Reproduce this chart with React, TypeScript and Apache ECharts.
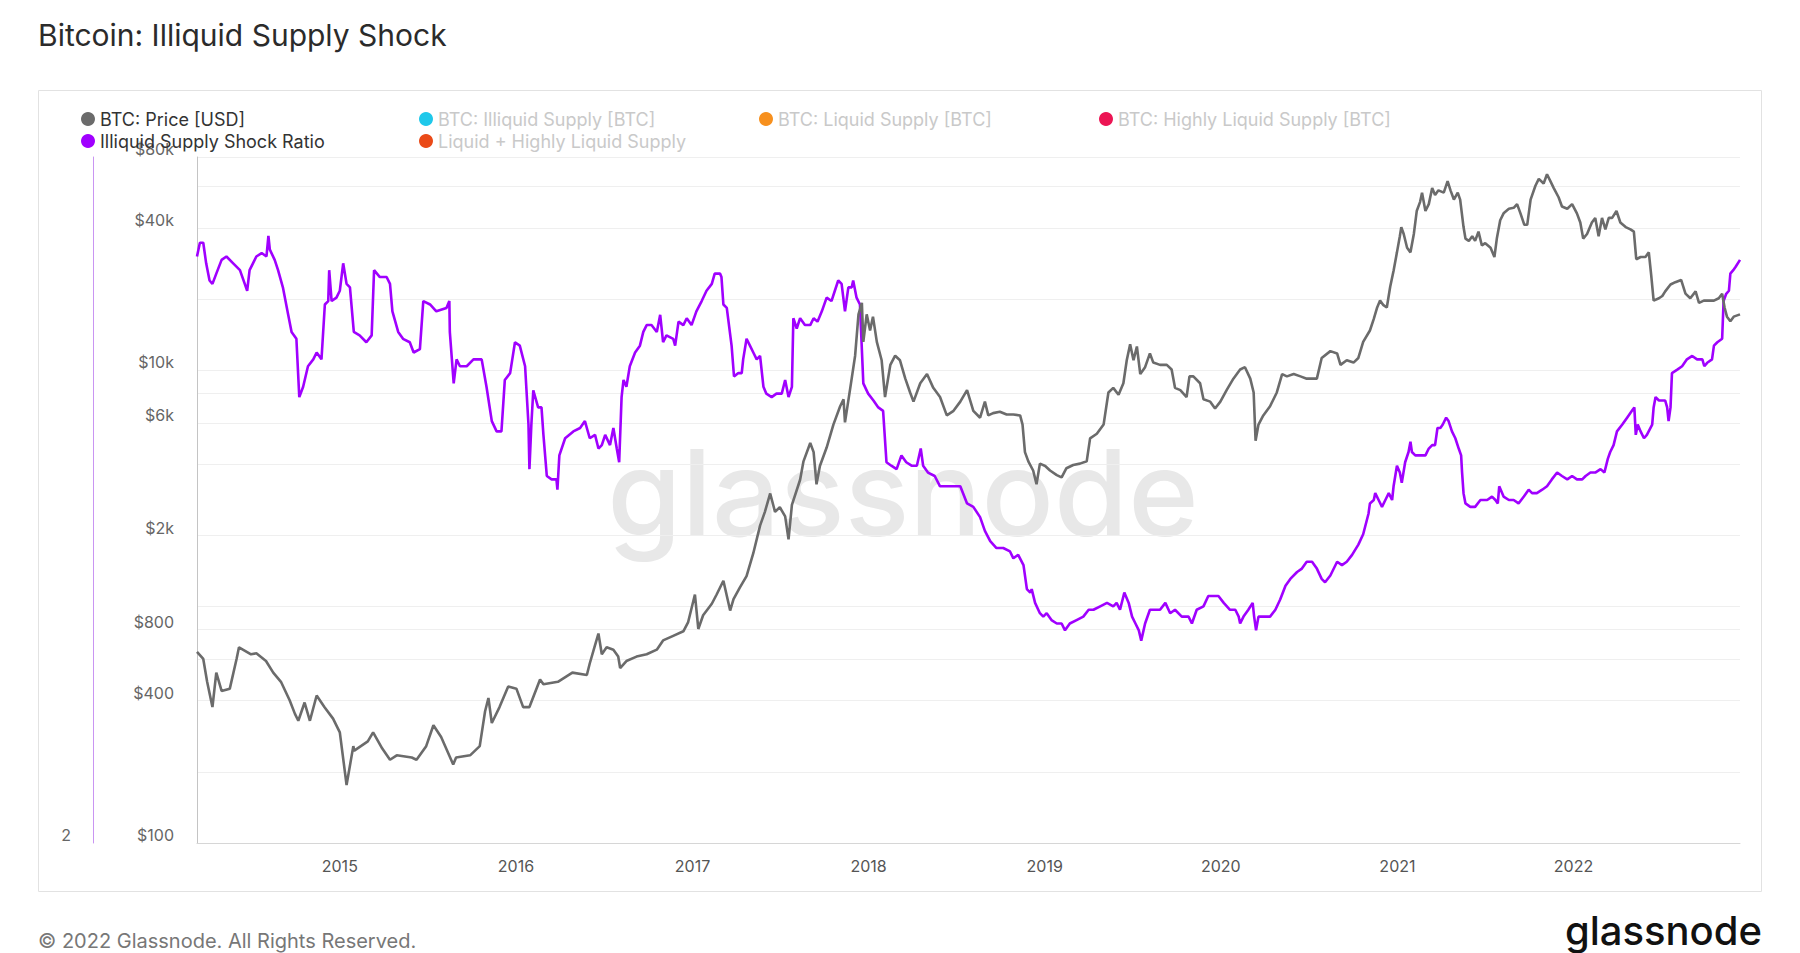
import React, { useEffect, useRef } from "react";
import * as echarts from "echarts";

const priceData: [string, number][] = [
  ["2014-03-11", 644], ["2014-03-24", 601], ["2014-04-01", 481], ["2014-04-12", 376], ["2014-04-20", 526],
  ["2014-05-01", 440], ["2014-05-18", 450], ["2014-06-01", 601], ["2014-06-06", 673], ["2014-07-01", 629],
  ["2014-07-12", 635], ["2014-08-01", 589], ["2014-08-16", 526], ["2014-09-01", 481], ["2014-09-19", 402],
  ["2014-09-30", 352], ["2014-10-07", 329], ["2014-10-20", 393], ["2014-10-31", 329], ["2014-11-14", 421],
  ["2014-11-30", 376], ["2014-12-18", 336], ["2015-01-01", 294], ["2015-01-15", 176], ["2015-01-29", 257],
  ["2015-01-31", 246], ["2015-02-28", 269], ["2015-03-11", 294], ["2015-03-30", 251], ["2015-04-15", 225],
  ["2015-04-29", 235], ["2015-05-30", 230], ["2015-06-09", 225], ["2015-06-29", 257], ["2015-07-14", 315],
  ["2015-07-30", 281], ["2015-08-24", 215], ["2015-08-30", 230], ["2015-09-28", 235], ["2015-10-18", 257],
  ["2015-10-29", 360], ["2015-11-05", 411], ["2015-11-12", 322], ["2015-11-28", 376], ["2015-12-16", 460],
  ["2016-01-02", 450], ["2016-01-16", 376], ["2016-01-29", 376], ["2016-02-20", 492], ["2016-02-27", 470],
  ["2016-03-28", 481], ["2016-04-27", 526], ["2016-05-27", 514],
  ["2016-06-02", 575], ["2016-06-13", 688], ["2016-06-20", 770], ["2016-06-27", 629], ["2016-07-07", 673],
  ["2016-07-21", 658], ["2016-07-31", 615], ["2016-08-04", 550], ["2016-08-17", 589], ["2016-09-07", 615],
  ["2016-09-28", 629], ["2016-10-19", 658], ["2016-11-01", 720], ["2016-11-22", 753], ["2016-12-13", 787],
  ["2016-12-23", 861], ["2017-01-06", 1126], ["2017-01-13", 805], ["2017-01-23", 920], ["2017-02-10", 1029],
  ["2017-02-20", 1126], ["2017-03-06", 1288], ["2017-03-20", 963], ["2017-03-27", 1076], ["2017-04-09", 1204],
  ["2017-04-23", 1347], ["2017-05-07", 1684], ["2017-05-21", 2203], ["2017-05-31", 2520], ["2017-06-11", 3014],
  ["2017-06-21", 2520], ["2017-07-01", 2635], ["2017-07-12", 2410], ["2017-07-19", 1926], ["2017-07-26", 2695],
  ["2017-08-12", 3445], ["2017-08-19", 4122], ["2017-09-02", 4931], ["2017-09-09", 4510], ["2017-09-15", 3296],
  ["2017-09-22", 3942], ["2017-10-06", 4716], ["2017-10-20", 5898], ["2017-11-03", 7053], ["2017-11-10", 7545],
  ["2017-11-13", 6028], ["2017-11-24", 8437], ["2017-12-04", 11540], ["2017-12-11", 17265], ["2017-12-18", 19305],
  ["2017-12-21", 13198], ["2017-12-28", 17265], ["2018-01-04", 14757], ["2018-01-10", 16883], ["2018-01-18", 13198],
  ["2018-01-28", 11036], ["2018-02-04", 7715], ["2018-02-15", 10552], ["2018-02-25", 11540], ["2018-03-07", 11036],
  ["2018-03-18", 9226], ["2018-03-28", 8066], ["2018-04-04", 7376], ["2018-04-18", 8822], ["2018-05-02", 9650],
  ["2018-05-15", 8437], ["2018-05-29", 7715], ["2018-06-12", 6449], ["2018-06-26", 6745], ["2018-07-10", 7376],
  ["2018-07-24", 8249], ["2018-08-06", 6745], ["2018-08-20", 6305],
  ["2018-08-30", 7376], ["2018-09-06", 6449], ["2018-09-16", 6595], ["2018-09-30", 6685], ["2018-10-14", 6507],
  ["2018-10-28", 6507], ["2018-11-11", 6449], ["2018-11-16", 5898], ["2018-11-21", 4510], ["2018-11-28", 4122],
  ["2018-12-08", 3770], ["2018-12-15", 3296], ["2018-12-22", 4031], ["2019-01-02", 3942], ["2019-01-12", 3770],
  ["2019-01-26", 3605], ["2019-02-05", 3525], ["2019-02-15", 3855], ["2019-03-01", 3978], ["2019-03-15", 4031],
  ["2019-03-29", 4122], ["2019-04-05", 5156], ["2019-04-19", 5392], ["2019-05-03", 5898], ["2019-05-13", 8066],
  ["2019-05-23", 8437], ["2019-06-03", 7889], ["2019-06-13", 8822], ["2019-06-20", 11036], ["2019-06-27", 12906],
  ["2019-07-04", 11036], ["2019-07-11", 12620], ["2019-07-18", 9650], ["2019-07-28", 10318], ["2019-08-07", 11800],
  ["2019-08-14", 10790], ["2019-08-28", 10552], ["2019-09-11", 10552], ["2019-09-21", 10090], ["2019-09-28", 8437],
  ["2019-10-09", 8249], ["2019-10-22", 7715], ["2019-10-28", 9434], ["2019-11-05", 9434], ["2019-11-19", 8822],
  ["2019-11-26", 7545], ["2019-12-10", 7376], ["2019-12-20", 6898], ["2019-12-31", 7376], ["2020-01-13", 8249],
  ["2020-01-27", 9226], ["2020-02-10", 10090], ["2020-02-20", 10318], ["2020-03-02", 9226], ["2020-03-09", 8066],
  ["2020-03-13", 5042], ["2020-03-19", 5898], ["2020-03-29", 6449], ["2020-04-12", 7053], ["2020-04-26", 8066],
  ["2020-05-07", 9650], ["2020-05-17", 9434], ["2020-05-31", 9650], ["2020-06-14", 9434], ["2020-06-27", 9226],
  ["2020-07-18", 9226], ["2020-07-28", 11285], ["2020-08-15", 12067], ["2020-08-29", 11800], ["2020-09-05", 10552],
  ["2020-09-18", 11036], ["2020-10-02", 10790], ["2020-10-12", 11285], ["2020-10-22", 13198],
  ["2020-11-05", 14757], ["2020-11-13", 16510], ["2020-11-20", 18460], ["2020-11-26", 19740], ["2020-12-03", 18880],
  ["2020-12-10", 18460], ["2020-12-17", 22580], ["2020-12-24", 26410], ["2020-12-31", 31590], ["2021-01-06", 36940],
  ["2021-01-09", 40410], ["2021-01-14", 37780], ["2021-01-21", 33040], ["2021-01-28", 31590], ["2021-02-04", 37780],
  ["2021-02-10", 47250], ["2021-02-17", 51680], ["2021-02-21", 56520], ["2021-02-28", 47250], ["2021-03-07", 50540],
  ["2021-03-14", 59110], ["2021-03-20", 55280], ["2021-03-27", 57810], ["2021-04-07", 56520], ["2021-04-15", 63210],
  ["2021-04-21", 57810], ["2021-04-28", 52840], ["2021-05-06", 56520], ["2021-05-11", 52840], ["2021-05-18", 40410],
  ["2021-05-22", 36130], ["2021-05-29", 35320], ["2021-06-05", 36940], ["2021-06-11", 35320], ["2021-06-18", 38640],
  ["2021-06-25", 33790], ["2021-07-02", 34550], ["2021-07-13", 33040], ["2021-07-21", 30200], ["2021-07-26", 36130],
  ["2021-08-02", 43210], ["2021-08-09", 46200], ["2021-08-20", 48330], ["2021-08-30", 48760], ["2021-09-06", 50540],
  ["2021-09-13", 46200], ["2021-09-21", 41320], ["2021-09-27", 41320], ["2021-10-04", 52840], ["2021-10-14", 60430],
  ["2021-10-21", 64640], ["2021-10-31", 61810], ["2021-11-07", 67600], ["2021-11-14", 63210], ["2021-11-21", 59110],
  ["2021-12-01", 54050], ["2021-12-08", 49410], ["2021-12-19", 48330], ["2021-12-29", 50540], ["2022-01-08", 46200],
  ["2022-01-15", 42250], ["2022-01-21", 36130], ["2022-01-29", 37780], ["2022-02-08", 42250], ["2022-02-15", 44190],
  ["2022-02-22", 36940], ["2022-03-01", 44190], ["2022-03-08", 39530], ["2022-03-15", 44190], ["2022-03-22", 44190],
  ["2022-03-31", 47250], ["2022-04-08", 42250], ["2022-04-19", 40410], ["2022-04-29", 39530], ["2022-05-06", 38640],
  ["2022-05-11", 29540], ["2022-05-20", 30200], ["2022-05-30", 30200], ["2022-06-06", 31590], ["2022-06-11", 25260],
  ["2022-06-16", 19740], ["2022-06-27", 20200], ["2022-07-04", 20650], ["2022-07-10", 21590], ["2022-07-21", 23090],
  ["2022-07-31", 23620], ["2022-08-12", 24150], ["2022-08-21", 21120], ["2022-08-31", 20200], ["2022-09-11", 21590],
  ["2022-09-18", 19305], ["2022-09-28", 19740], ["2022-10-08", 19740], ["2022-10-19", 19740], ["2022-10-29", 20200],
  ["2022-11-05", 21120], ["2022-11-10", 18460], ["2022-11-15", 16883], ["2022-11-22", 16140], ["2022-11-29", 16883],
  ["2022-12-12", 17265],
];

const issData: [string, number][] = [
  ["2014-03-11", 3.71], ["2014-03-17", 3.75], ["2014-03-24", 3.75], ["2014-03-30", 3.69], ["2014-04-06", 3.64],
  ["2014-04-12", 3.63], ["2014-04-20", 3.66], ["2014-05-01", 3.70], ["2014-05-11", 3.71], ["2014-05-25", 3.69],
  ["2014-06-08", 3.67], ["2014-06-18", 3.63], ["2014-06-23", 3.61], ["2014-06-28", 3.67], ["2014-07-05", 3.69],
  ["2014-07-12", 3.71], ["2014-07-23", 3.72], ["2014-08-02", 3.71], ["2014-08-06", 3.77], ["2014-08-09", 3.73],
  ["2014-08-19", 3.70], ["2014-08-26", 3.67], ["2014-09-05", 3.62], ["2014-09-16", 3.54], ["2014-09-23", 3.49],
  ["2014-10-03", 3.47], ["2014-10-09", 3.30], ["2014-10-17", 3.33], ["2014-10-27", 3.39], ["2014-11-07", 3.41],
  ["2014-11-14", 3.43], ["2014-11-24", 3.41], ["2014-12-01", 3.57], ["2014-12-08", 3.58], ["2014-12-10", 3.67],
  ["2014-12-15", 3.58], ["2014-12-25", 3.59], ["2015-01-01", 3.61], ["2015-01-08", 3.69], ["2015-01-15", 3.63],
  ["2015-01-22", 3.62], ["2015-01-30", 3.49], ["2015-02-11", 3.48], ["2015-02-25", 3.46], ["2015-03-08", 3.48],
  ["2015-03-13", 3.67], ["2015-03-25", 3.65], ["2015-04-08", 3.65], ["2015-04-15", 3.63], ["2015-04-20", 3.55],
  ["2015-05-02", 3.49], ["2015-05-12", 3.47], ["2015-05-26", 3.46], ["2015-06-03", 3.43], ["2015-06-16", 3.44],
  ["2015-06-23", 3.58], ["2015-07-07", 3.57], ["2015-07-20", 3.55], ["2015-08-10", 3.56], ["2015-08-16", 3.58],
  ["2015-08-17", 3.49], ["2015-08-25", 3.34], ["2015-08-31", 3.41], ["2015-09-07", 3.39], ["2015-09-21", 3.39],
  ["2015-10-05", 3.41], ["2015-10-22", 3.41], ["2015-11-01", 3.33], ["2015-11-12", 3.23], ["2015-11-22", 3.20],
  ["2015-12-02", 3.20], ["2015-12-09", 3.35], ["2015-12-20", 3.37], ["2015-12-30", 3.46], ["2016-01-09", 3.45],
  ["2016-01-20", 3.39], ["2016-01-27", 3.22], ["2016-01-29", 3.09], ["2016-02-02", 3.22], ["2016-02-06", 3.32],
  ["2016-02-16", 3.27], ["2016-02-23", 3.27], ["2016-02-27", 3.19], ["2016-03-05", 3.07], ["2016-03-15", 3.06],
  ["2016-03-25", 3.06], ["2016-03-27", 3.03], ["2016-03-31", 3.13], ["2016-04-12", 3.18], ["2016-04-29", 3.20],
  ["2016-05-13", 3.21], ["2016-05-23", 3.23], ["2016-06-02", 3.18],
  ["2016-06-13", 3.19], ["2016-06-20", 3.15], ["2016-06-27", 3.16], ["2016-07-04", 3.19], ["2016-07-14", 3.16],
  ["2016-07-21", 3.21], ["2016-07-28", 3.15], ["2016-08-02", 3.11], ["2016-08-07", 3.30], ["2016-08-11", 3.35],
  ["2016-08-17", 3.33], ["2016-08-24", 3.39], ["2016-09-04", 3.43], ["2016-09-14", 3.45], ["2016-09-21", 3.49],
  ["2016-09-28", 3.51], ["2016-10-08", 3.51], ["2016-10-19", 3.49], ["2016-10-26", 3.54], ["2016-11-01", 3.46],
  ["2016-11-08", 3.48], ["2016-11-22", 3.47], ["2016-11-26", 3.45], ["2016-12-03", 3.52], ["2016-12-13", 3.51],
  ["2016-12-20", 3.53], ["2016-12-30", 3.51], ["2017-01-09", 3.55], ["2017-01-20", 3.58], ["2017-01-30", 3.61],
  ["2017-02-10", 3.63], ["2017-02-16", 3.66], ["2017-02-27", 3.66], ["2017-03-02", 3.65], ["2017-03-06", 3.57],
  ["2017-03-13", 3.56], ["2017-03-23", 3.45], ["2017-03-28", 3.36], ["2017-04-06", 3.37], ["2017-04-13", 3.37],
  ["2017-04-16", 3.41], ["2017-04-23", 3.47], ["2017-04-30", 3.45], ["2017-05-07", 3.43], ["2017-05-14", 3.41],
  ["2017-05-21", 3.42], ["2017-05-28", 3.33], ["2017-06-03", 3.31], ["2017-06-14", 3.30], ["2017-06-24", 3.31],
  ["2017-07-05", 3.31], ["2017-07-12", 3.35], ["2017-07-19", 3.30], ["2017-07-26", 3.33], ["2017-07-29", 3.53],
  ["2017-08-05", 3.50], ["2017-08-12", 3.53], ["2017-08-22", 3.51], ["2017-09-02", 3.51], ["2017-09-09", 3.53],
  ["2017-09-17", 3.52], ["2017-09-26", 3.55], ["2017-10-06", 3.59], ["2017-10-16", 3.58], ["2017-10-23", 3.61],
  ["2017-10-30", 3.64], ["2017-11-06", 3.63], ["2017-11-13", 3.55], ["2017-11-20", 3.62], ["2017-11-27", 3.62],
  ["2017-11-30", 3.64], ["2017-12-07", 3.59], ["2017-12-14", 3.57], ["2017-12-21", 3.34], ["2017-12-31", 3.31],
  ["2018-01-11", 3.29], ["2018-01-21", 3.27], ["2018-01-31", 3.26], ["2018-02-07", 3.11], ["2018-02-17", 3.10],
  ["2018-02-28", 3.09], ["2018-03-10", 3.13], ["2018-03-20", 3.11], ["2018-03-31", 3.10], ["2018-04-11", 3.10],
  ["2018-04-19", 3.15], ["2018-04-24", 3.10], ["2018-05-04", 3.08], ["2018-05-18", 3.07], ["2018-05-29", 3.04],
  ["2018-06-12", 3.04], ["2018-06-26", 3.04], ["2018-07-10", 3.04], ["2018-07-24", 2.99], ["2018-08-06", 2.98],
  ["2018-08-20", 2.95],
  ["2018-08-30", 2.91], ["2018-09-10", 2.88], ["2018-09-23", 2.86], ["2018-10-07", 2.86], ["2018-10-21", 2.85],
  ["2018-10-28", 2.83], ["2018-11-07", 2.84], ["2018-11-18", 2.81], ["2018-11-25", 2.74], ["2018-12-02", 2.73],
  ["2018-12-05", 2.74], ["2018-12-12", 2.70], ["2018-12-22", 2.67], ["2018-12-29", 2.66], ["2019-01-05", 2.67],
  ["2019-01-15", 2.65], ["2019-01-26", 2.64], ["2019-02-05", 2.64], ["2019-02-12", 2.62], ["2019-02-22", 2.64],
  ["2019-03-08", 2.65], ["2019-03-22", 2.66], ["2019-04-02", 2.68], ["2019-04-12", 2.68], ["2019-04-26", 2.69],
  ["2019-05-10", 2.70], ["2019-05-23", 2.69], ["2019-05-30", 2.70], ["2019-06-06", 2.68], ["2019-06-15", 2.73],
  ["2019-06-24", 2.70], ["2019-07-01", 2.66], ["2019-07-08", 2.64], ["2019-07-15", 2.62], ["2019-07-20", 2.59],
  ["2019-07-28", 2.64], ["2019-08-07", 2.68], ["2019-08-18", 2.68], ["2019-08-28", 2.68], ["2019-09-08", 2.70],
  ["2019-09-18", 2.67], ["2019-09-28", 2.68], ["2019-10-12", 2.66], ["2019-10-26", 2.66], ["2019-11-02", 2.64],
  ["2019-11-12", 2.68], ["2019-11-26", 2.69], ["2019-12-06", 2.72], ["2019-12-17", 2.72], ["2019-12-27", 2.72],
  ["2020-01-07", 2.70], ["2020-01-20", 2.68], ["2020-01-31", 2.68], ["2020-02-07", 2.66], ["2020-02-10", 2.64],
  ["2020-02-17", 2.66], ["2020-02-27", 2.68], ["2020-03-07", 2.70], ["2020-03-10", 2.66], ["2020-03-14", 2.62],
  ["2020-03-19", 2.66], ["2020-03-29", 2.66], ["2020-04-12", 2.66], ["2020-04-23", 2.68], ["2020-05-03", 2.71],
  ["2020-05-14", 2.75], ["2020-05-24", 2.77], ["2020-06-07", 2.79], ["2020-06-17", 2.80], ["2020-06-27", 2.82],
  ["2020-07-08", 2.82], ["2020-07-18", 2.80], ["2020-07-28", 2.77], ["2020-08-04", 2.76], ["2020-08-15", 2.78],
  ["2020-08-29", 2.82], ["2020-09-08", 2.81], ["2020-09-18", 2.82], ["2020-09-29", 2.84], ["2020-10-12", 2.87],
  ["2020-10-22", 2.90], ["2020-11-02", 2.96], ["2020-11-05", 2.99],
  ["2020-11-13", 3.00], ["2020-11-16", 3.02], ["2020-11-23", 3.00], ["2020-11-30", 2.98], ["2020-12-07", 3.00],
  ["2020-12-14", 3.02], ["2020-12-21", 3.00], ["2020-12-24", 3.04], ["2020-12-31", 3.10], ["2021-01-06", 3.08],
  ["2021-01-10", 3.05], ["2021-01-17", 3.11], ["2021-01-24", 3.14], ["2021-01-28", 3.17], ["2021-01-31", 3.14],
  ["2021-02-07", 3.13], ["2021-02-17", 3.13], ["2021-02-28", 3.13], ["2021-03-07", 3.15], ["2021-03-14", 3.16],
  ["2021-03-20", 3.16], ["2021-03-25", 3.21], ["2021-03-31", 3.21], ["2021-04-05", 3.22], ["2021-04-12", 3.24],
  ["2021-04-17", 3.23], ["2021-04-24", 3.20], ["2021-05-01", 3.18], ["2021-05-08", 3.15], ["2021-05-13", 3.13],
  ["2021-05-15", 3.08], ["2021-05-18", 3.02], ["2021-05-22", 2.99], ["2021-06-01", 2.98], ["2021-06-11", 2.98],
  ["2021-06-22", 3.00], ["2021-07-06", 3.00], ["2021-07-16", 3.01], ["2021-07-23", 3.00], ["2021-07-28", 2.99],
  ["2021-07-31", 3.04], ["2021-08-09", 3.01], ["2021-08-20", 3.00], ["2021-08-30", 3.00], ["2021-09-09", 2.99],
  ["2021-09-20", 3.01], ["2021-09-30", 3.03], ["2021-10-07", 3.02], ["2021-10-17", 3.02], ["2021-10-28", 3.03],
  ["2021-11-07", 3.04], ["2021-11-17", 3.06], ["2021-11-28", 3.08], ["2021-12-08", 3.07], ["2021-12-19", 3.06],
  ["2021-12-29", 3.07], ["2022-01-08", 3.06], ["2022-01-19", 3.06], ["2022-01-26", 3.07], ["2022-02-05", 3.08],
  ["2022-02-15", 3.08], ["2022-02-26", 3.09], ["2022-03-06", 3.08], ["2022-03-13", 3.12], ["2022-03-18", 3.14],
  ["2022-03-25", 3.16], ["2022-04-01", 3.20], ["2022-04-12", 3.22], ["2022-04-22", 3.24], ["2022-05-02", 3.26],
  ["2022-05-07", 3.27], ["2022-05-10", 3.19], ["2022-05-14", 3.22], ["2022-05-20", 3.20], ["2022-05-27", 3.18],
  ["2022-06-02", 3.19], ["2022-06-13", 3.22], ["2022-06-16", 3.27], ["2022-06-20", 3.30], ["2022-06-27", 3.29],
  ["2022-07-04", 3.29], ["2022-07-10", 3.29], ["2022-07-14", 3.27], ["2022-07-17", 3.23], ["2022-07-21", 3.27],
  ["2022-07-24", 3.37], ["2022-08-04", 3.38], ["2022-08-14", 3.39], ["2022-08-24", 3.41], ["2022-09-04", 3.42],
  ["2022-09-14", 3.41], ["2022-09-25", 3.41], ["2022-09-29", 3.39], ["2022-10-05", 3.40], ["2022-10-15", 3.41],
  ["2022-10-19", 3.45], ["2022-10-26", 3.46], ["2022-11-05", 3.47], ["2022-11-08", 3.58], ["2022-11-13", 3.60],
  ["2022-11-19", 3.61], ["2022-11-22", 3.66], ["2022-11-28", 3.67], ["2022-12-03", 3.68], ["2022-12-12", 3.70],
];

const priceLabelTicks = [100, 400, 800, 2000, 6000, 10000, 40000, 80000];
const priceGridTicks = [100, 200, 400, 600, 800, 1000, 2000, 4000, 6000, 8000, 10000, 20000, 40000, 60000, 80000];
const issLabelTicks = [2];

const NAME_PRICE = "BTC: Price [USD]";
const NAME_ISS = "Illiquid Supply Shock Ratio";
const NAME_ILLIQ = "BTC: Illiquid Supply [BTC]";
const NAME_LIQ = "BTC: Liquid Supply [BTC]";
const NAME_HLIQ = "BTC: Highly Liquid Supply [BTC]";
const NAME_SUM = "Liquid + Highly Liquid Supply";

const COLORS: Record<string, string> = {
  [NAME_PRICE]: "#6b6b6b",
  [NAME_ISS]: "#a000ff",
  [NAME_ILLIQ]: "#1fc8ea",
  [NAME_LIQ]: "#f7901e",
  [NAME_HLIQ]: "#ec1554",
  [NAME_SUM]: "#ea4a18",
};

const FONT = "Inter, 'Noto Sans', sans-serif";
const YEAR_MS = 365 * 24 * 3600 * 1000;

function fmtPrice(v: number): string {
  return v >= 1000 ? "$" + Math.round(v / 1000) + "k" : "$" + Math.round(v);
}

export default function App() {
  const ref = useRef<HTMLDivElement>(null);

  useEffect(() => {
    if (!ref.current) return;
    const chart = echarts.init(ref.current, undefined, { renderer: "svg" });

    const legendItem = (name: string, active: boolean) => ({
      name,
      icon: "circle",
      itemStyle: { color: COLORS[name] },
      textStyle: { color: active ? "#333333" : "#c9c9c9" },
    });
    const legendBase = {
      orient: "vertical" as const,
      top: 104,
      itemWidth: 14,
      itemHeight: 14,
      itemGap: 2,
      selectedMode: false,
      textStyle: { fontSize: 18, fontFamily: FONT, lineHeight: 20 },
    };

    const emptySeries = (name: string) => ({
      name,
      type: "line",
      yAxisIndex: 1,
      data: [],
      showSymbol: false,
      lineStyle: { color: COLORS[name] },
      itemStyle: { color: COLORS[name] },
    });

    chart.setOption({
      animation: false,
      backgroundColor: "#ffffff",
      textStyle: { fontFamily: FONT },
      legend: [
        { ...legendBase, left: 76, data: [legendItem(NAME_PRICE, true), legendItem(NAME_ISS, true)] },
        { ...legendBase, left: 414, data: [legendItem(NAME_ILLIQ, false), legendItem(NAME_SUM, false)] },
        { ...legendBase, left: 754, data: [legendItem(NAME_LIQ, false)] },
        { ...legendBase, left: 1094, data: [legendItem(NAME_HLIQ, false)] },
      ],
      grid: { left: 197, right: 60, top: 157, bottom: 110, containLabel: false },
      xAxis: {
        type: "time",
        min: new Date(2014, 2, 11).getTime(),
        max: new Date(2022, 11, 12).getTime(),
        minInterval: YEAR_MS,
        maxInterval: YEAR_MS,
        axisLine: { show: true, lineStyle: { color: "#d6d6d6", width: 1 } },
        axisTick: { show: false },
        axisLabel: {
          formatter: (v: number) => String(new Date(v).getFullYear()),
          showMinLabel: false,
          showMaxLabel: false,
          color: "#555555",
          fontSize: 16,
          fontFamily: FONT,
          margin: 15,
        },
        splitLine: { show: false },
      },
      yAxis: [
        {
          type: "log",
          logBase: 10,
          min: 100,
          max: 80000,
          position: "left",
          axisLine: { show: true, lineStyle: { color: "#c4c4c4", width: 1 } },
          axisTick: { show: false, customValues: priceGridTicks },
          axisLabel: {
            customValues: priceLabelTicks,
            formatter: (v: number) => fmtPrice(v),
            color: "#666666",
            fontSize: 16,
            fontFamily: FONT,
            margin: 23,
            verticalAlign: "bottom",
          },
          splitLine: { show: true, lineStyle: { color: "#efefef", width: 1 } },
        },
        {
          type: "value",
          min: 2,
          max: 4,
          position: "left",
          offset: 104,
          axisLine: { show: true, lineStyle: { color: "#c995f2", width: 1 } },
          axisTick: { show: false },
          axisLabel: {
            customValues: issLabelTicks,
            color: "#666666",
            fontSize: 16,
            fontFamily: FONT,
            margin: 22,
            verticalAlign: "bottom",
          },
          splitLine: { show: false },
        },
      ],
      series: [
        {
          name: NAME_ISS,
          type: "line",
          yAxisIndex: 1,
          data: issData,
          showSymbol: false,
          symbol: "none",
          lineStyle: { color: COLORS[NAME_ISS], width: 2.6 },
          itemStyle: { color: COLORS[NAME_ISS] },
          z: 3,
        },
        {
          name: NAME_PRICE,
          type: "line",
          yAxisIndex: 0,
          data: priceData,
          showSymbol: false,
          symbol: "none",
          lineStyle: { color: COLORS[NAME_PRICE], width: 2.6 },
          itemStyle: { color: COLORS[NAME_PRICE] },
          z: 4,
        },
        emptySeries(NAME_ILLIQ),
        emptySeries(NAME_LIQ),
        emptySeries(NAME_HLIQ),
        emptySeries(NAME_SUM),
      ],
      graphic: [
        {
          type: "rect",
          silent: true,
          z: -10,
          shape: { x: 38.5, y: 90.5, width: 1723, height: 801 },
          style: { fill: "none", stroke: "#e2e2e2", lineWidth: 1 },
        },
        {
          type: "text",
          silent: true,
          z: -5,
          x: 903,
          y: 492,
          style: {
            text: "glassnode",
            fill: "#e8e8e8",
            fontSize: 120,
            fontFamily: FONT,
            fontWeight: 500,
            align: "center",
            verticalAlign: "middle",
          },
        },
        {
          type: "text",
          silent: true,
          x: 38,
          y: 35,
          style: {
            text: "Bitcoin: Illiquid Supply Shock",
            fill: "#2b2b2b",
            fontSize: 30,
            fontFamily: FONT,
            fontWeight: 400,
            align: "left",
            verticalAlign: "middle",
          },
        },
        {
          type: "text",
          silent: true,
          x: 38,
          y: 941,
          style: {
            text: "© 2022 Glassnode. All Rights Reserved.",
            fill: "#777777",
            fontSize: 20,
            fontFamily: FONT,
            align: "left",
            verticalAlign: "middle",
          },
        },
        {
          type: "text",
          silent: true,
          x: 1762,
          y: 930,
          style: {
            text: "glassnode",
            fill: "#111111",
            fontSize: 40,
            fontFamily: FONT,
            fontWeight: 500,
            align: "right",
            verticalAlign: "middle",
          },
        },
      ],
    });

    return () => chart.dispose();
  }, []);

  return (
    <div
      ref={ref}
      style={{ position: "fixed", left: 0, top: 0, width: 1800, height: 953, background: "#fff" }}
    />
  );
}
